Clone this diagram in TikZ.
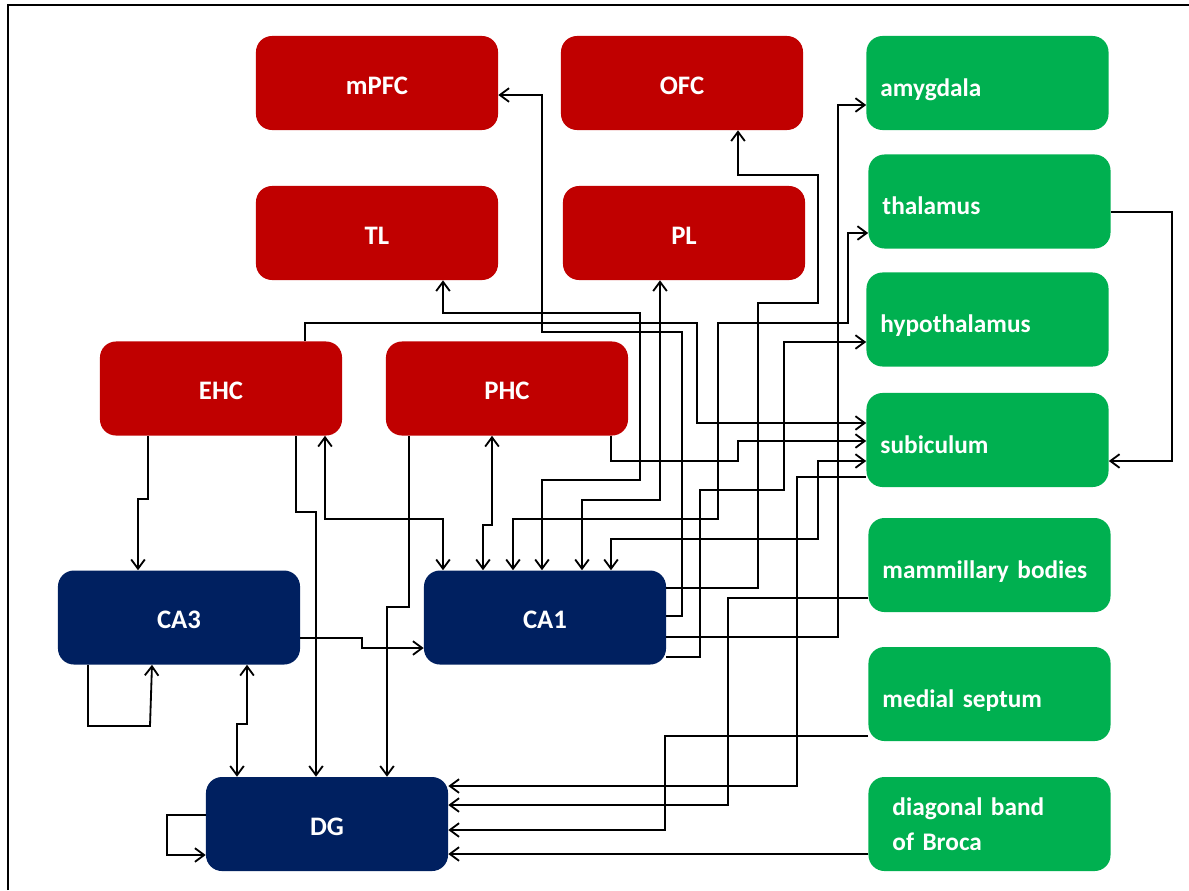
\documentclass[tikz,border=0pt]{standalone}
\usepackage{fontspec}
\setmainfont{Carlito}
\usetikzlibrary{arrows.meta}
\definecolor{cortexred}{HTML}{C00000}
\definecolor{hipponavy}{HTML}{002060}
\definecolor{limbicgreen}{HTML}{00B050}

\begin{document}
\begin{tikzpicture}[x=0.025cm, y=-0.025cm,
    box/.style={rounded corners=0.4cm, minimum width=6.05cm, minimum height=2.35cm,
      inner sep=0pt, text=white, text depth=0pt, font=\fontsize{19}{23}\selectfont\bfseries},
    cortex/.style={box, fill=cortexred, text height=16pt},
    hippo/.style={box, fill=hipponavy, text height=16pt},
    limbic/.style={box, fill=limbicgreen, align=left, text width=5.35cm, text height=18.5pt,
      font=\fontsize{18}{25}\selectfont\bfseries},
    wire/.style={line width=1.3pt},
    >={Straight Barb[length=2.3mm, width=3.4mm]}]
  \useasboundingbox (0,0) rectangle (1189,890);
  \draw [line width=1.5pt] (8,890) -- (8,5) -- (1189,5);

  % cortical areas
  \node [cortex] (mPFC) at (377,83) {mPFC};
  \node [cortex] (OFC) at (682,83) {OFC};
  \node [cortex] (TL) at (377,233) {TL};
  \node [cortex] (PL) at (684,233) {PL};
  \node [cortex] (EHC) at (221,388.5) {EHC};
  \node [cortex] (PHC) at (507,388.5) {PHC};
  % hippocampus
  \node [hippo] (CA3) at (179,617.5) {CA3};
  \node [hippo] (CA1) at (545,617.5) {CA1};
  \node [hippo] (DG) at (327,824) {DG};
  % subcortical targets
  \node [limbic] (amygdala) at (987.5,83) {amygdala};
  \node [limbic] (thalamus) at (989.5,201.5) {thalamus};
  \node [limbic] (hypothalamus) at (987.5,319.5) {hypothalamus};
  \node [limbic] (subiculum) at (987.5,440) {subiculum};
  \node [limbic] (mammillary) at (989.5,565) {mammillary bodies};
  \node [limbic] (septum) at (989.5,694) {medial septum};
  \node [limbic, text height={}, text depth={}] (broca) at (989.5,824)
    {\hspace{0.25cm}diagonal band\\\hspace{0.25cm}of Broca};

  % entorhinal / parahippocampal inputs
  \draw [wire,->] (EHC.south -| 148,0) |- (138,499) -- (CA3.north -| 138,0);
  \draw [wire,->] (EHC.south -| 296,0) |- (316,512) -- (DG.north -| 316,0);
  \draw [wire,<->] (EHC.south -| 325,0) |- (443,519) -- (CA1.north -| 443,0);
  \draw [wire,<->] (PHC.south -| 492,0) |- (483,525) -- (CA1.north -| 483,0);
  \draw [wire,->] (PHC.south -| 409,0) |- (387,607) -- (DG.north -| 387,0);
  \draw [wire,->] (PHC.south -| 611,0) |- (738,461) |- (subiculum.west |- 0,441);
  \draw [wire,->] (EHC.north -| 305,0) |- (697,323) |- (subiculum.west |- 0,423);

  % intrinsic loops
  \draw [wire,->] (CA3.east |- 0,638) -| (362,648) -- (CA1.west |- 0,648);
  \draw [wire,->] (CA3.south -| 88,0) |- (150,726) -- (CA3.south -| 152,0);
  \draw [wire,<->] (CA3.south -| 247,0) |- (237,724) -- (DG.north -| 237,0);
  \draw [wire,->] (DG.west |- 0,815) -- (167,815) -- (167,855) -- (DG.west |- 0,855);

  % CA1 outputs
  \draw [wire,->] (CA1.east |- 0,588) -| (758,303) -| (818,175) -| (OFC.south -| 738,0);
  \draw [wire,->] (CA1.east |- 0,616) -| (682,332) -| (542,95) -- (mPFC.east |- 0,95);
  \draw [wire,->] (CA1.east |- 0,637) -| (838,105) -- (amygdala.west |- 0,105);
  \draw [wire,->] (CA1.east |- 0,657) -| (700,490) -| (784,342) -- (hypothalamus.west |- 0,342);
  \draw [wire,<->] (CA1.north -| 513,0) |- (718,519) |- (848,323) |- (thalamus.west |- 0,233);
  \draw [wire,<->] (CA1.north -| 542,0) |- (640,480) |- (443,313) -- (TL.south -| 443,0);
  \draw [wire,<->] (CA1.north -| 582,0) |- (660,500) -- (PL.south -| 660,0);
  \draw [wire,<->] (CA1.north -| 611,0) |- (818,539) |- (subiculum.west |- 0,461);

  % inputs to DG
  \draw [wire,->] (subiculum.west |- 0,477) -| (797,786) -- (DG.east |- 0,786);
  \draw [wire,->] (mammillary.west |- 0,598) -| (728,805) -- (DG.east |- 0,805);
  \draw [wire,->] (septum.west |- 0,736) -| (665,830) -- (DG.east |- 0,830);
  \draw [wire,->] (broca.west |- 0,854) -- (DG.east |- 0,854);
  \draw [wire,->] (thalamus.east |- 0,212) -| (1172,461) -- (subiculum.east |- 0,461);
\end{tikzpicture}
\end{document}
